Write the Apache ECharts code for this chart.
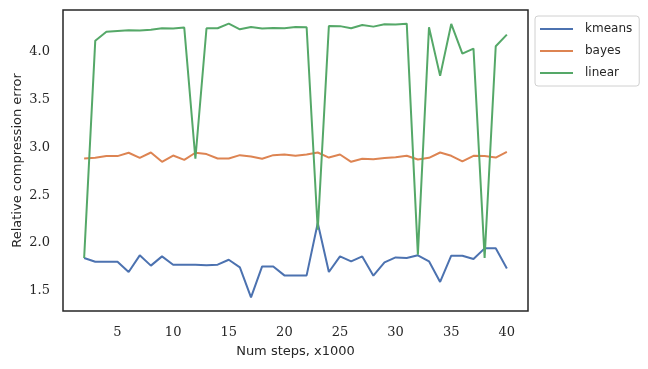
<!DOCTYPE html>
<html>
<head>
<meta charset="utf-8">
<script src="https://cdn.jsdelivr.net/npm/echarts@6/dist/echarts.min.js"></script>
<style>html,body{margin:0;padding:0;background:#fff}#c{width:648px;height:369px}</style>
</head>
<body>
<div id="c"></div>
<script>
var steps = [2,3,4,5,6,7,8,9,10,11,12,13,14,15,16,17,18,19,20,21,22,23,24,25,26,27,28,29,30,31,32,33,34,35,36,37,38,39,40];
var kmeans = [1.842,1.803,1.803,1.803,1.695,1.870,1.762,1.859,1.772,1.772,1.772,1.765,1.772,1.824,1.744,1.430,1.754,1.754,1.660,1.660,1.660,2.208,1.695,1.859,1.807,1.859,1.657,1.796,1.848,1.842,1.870,1.807,1.591,1.866,1.866,1.831,1.943,1.943,1.733];
var bayes = [2.884,2.891,2.909,2.909,2.944,2.891,2.947,2.849,2.915,2.870,2.944,2.930,2.884,2.884,2.919,2.905,2.881,2.919,2.926,2.912,2.926,2.947,2.894,2.926,2.849,2.881,2.877,2.888,2.898,2.912,2.873,2.891,2.947,2.912,2.853,2.912,2.909,2.894,2.954];
var linear = [1.842,4.118,4.212,4.220,4.227,4.224,4.233,4.248,4.245,4.255,2.881,4.248,4.248,4.296,4.237,4.262,4.245,4.251,4.248,4.260,4.258,2.138,4.272,4.270,4.248,4.282,4.265,4.290,4.286,4.296,1.877,4.258,3.749,4.293,3.982,4.035,1.842,4.060,4.181];
var xTicks = [5,10,15,20,25,30,35,40];
var yTicks = [1.5,2.0,2.5,3.0,3.5,4.0];
var seriesNames = ['kmeans','bayes','linear'];
var colors = ['#4c72b0','#dd8452','#55a868'];

function pairs(vals){ return steps.map(function(s,i){ return [s, vals[i]]; }); }
var allData = [kmeans, bayes, linear];

var chart = echarts.init(document.getElementById('c'), null, {renderer:'canvas'});
chart.setOption({
  animation: false,
  backgroundColor: '#ffffff',
  color: colors,
  grid: {left: 63, right: 120, top: 10, bottom: 58, containLabel: false, outerBoundsMode: 'none',
    show: true, borderColor: '#262626', borderWidth: 1.5, backgroundColor: 'transparent'},
  legend: {
    orient: 'vertical', left: 535, top: 16,
    data: seriesNames,
    icon: 'rect', itemWidth: 33, itemHeight: 2, itemGap: 8,
    padding: [6, 7, 6, 5],
    backgroundColor: '#ffffff', borderColor: '#d0d0d0', borderWidth: 1, borderRadius: 3,
    textStyle: {fontFamily: 'DejaVu Sans', fontSize: 12, color: '#262626', lineHeight: 14, padding: [0,0,0,7]}
  },
  xAxis: {
    type: 'value', min: 0.1, max: 41.9,
    name: 'Num steps, x1000', nameLocation: 'middle', nameGap: 34, nameMoveOverlap: false,
    nameTextStyle: {fontFamily: 'DejaVu Sans', fontSize: 13, color: '#262626'},
    axisLine: {show: false}, axisTick: {show: false}, splitLine: {show: false},
    axisLabel: {customValues: xTicks, margin: 15, fontFamily: 'DejaVu Serif', fontSize: 13, color: '#262626',
      formatter: function(v){ return String(v); }}
  },
  yAxis: {
    type: 'value', min: 1.287, max: 4.439,
    name: 'Relative compression error', nameLocation: 'middle', nameGap: 39, nameMoveOverlap: false,
    nameTextStyle: {fontFamily: 'DejaVu Sans', fontSize: 13, color: '#262626'},
    axisLine: {show: false}, axisTick: {show: false}, splitLine: {show: false},
    axisLabel: {customValues: yTicks, margin: 13, padding: [5, 0, 0, 0], fontFamily: 'DejaVu Serif', fontSize: 13, color: '#262626',
      formatter: function(v){ return v.toFixed(1); }}
  },
  series: seriesNames.map(function(n, i){
    return {name: n, type: 'line', data: pairs(allData[i]), showSymbol: false, symbol: 'none',
      lineStyle: {width: 2, color: colors[i]}, itemStyle: {color: colors[i]}, z: 2 + i};
  })
});
</script>
</body>
</html>
